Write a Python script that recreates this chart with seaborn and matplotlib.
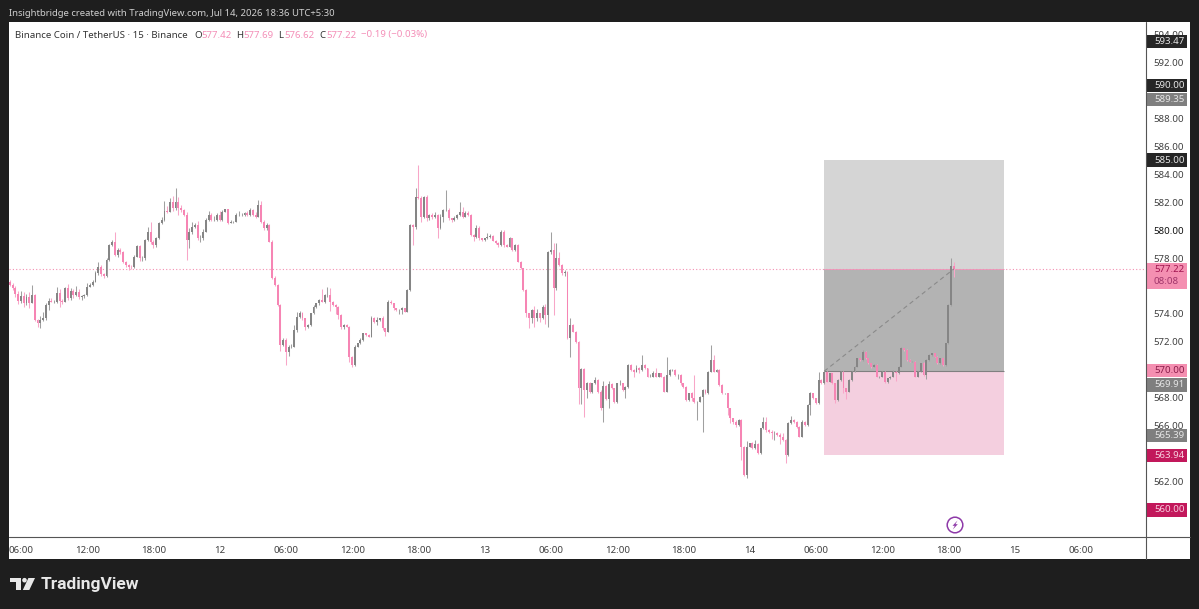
import matplotlib
matplotlib.use("Agg")
import matplotlib.pyplot as plt
from matplotlib.patches import Rectangle, Circle, Polygon
from matplotlib.transforms import blended_transform_factory
import numpy as np
import pandas as pd
import seaborn as sns

# 15-minute closes, oldest bar first
closes = [
    576.08, 575.84, 575.43, 574.96, 575.29, 574.77, 575.24, 574.81, 575.36, 573.58,
    573.34, 573.58, 573.69, 574.65, 574.96, 574.89, 574.89, 575.48, 574.96, 574.89,
    575.84, 575.12, 575.67, 575.36, 575.60, 575.24, 575.29, 575.36, 575.96, 576.08,
    576.31, 576.91, 577.34, 576.86, 576.72, 577.86, 578.93, 579.17, 578.22, 578.58,
    578.46, 577.74, 577.50, 577.39, 577.34, 578.10, 578.86, 577.98, 577.98, 579.29,
    579.89, 579.17, 578.93, 579.41, 580.48, 580.72, 581.39, 581.31, 582.03, 581.55,
    582.03, 581.55, 581.43, 581.08, 579.29, 579.89, 580.24, 580.36, 579.41, 579.41,
    579.89, 580.72, 581.08, 580.72, 580.72, 581.08, 580.72, 581.31, 581.48, 580.53,
    580.60, 580.60, 581.08, 581.08, 581.08, 581.19, 581.08, 581.43, 581.08, 580.96,
    581.79, 580.60, 580.12, 580.36, 579.17, 576.55, 576.08, 574.65, 571.79, 572.15,
    571.31, 571.67, 571.67, 572.86, 573.81, 574.04, 573.69, 573.09, 573.21, 574.04,
    574.52, 574.76, 575.00, 574.88, 575.35, 575.35, 574.88, 574.64, 574.52, 573.92,
    573.09, 573.21, 573.09, 570.95, 570.35, 571.66, 571.90, 572.14, 572.61, 572.50,
    572.38, 573.69, 573.45, 573.57, 573.69, 572.97, 572.73, 574.88, 574.76, 574.40,
    574.28, 574.28, 574.40, 574.16, 575.71, 580.35, 580.19, 582.38, 582.26, 580.95,
    582.38, 580.83, 581.07, 580.95, 581.07, 580.11, 580.95, 581.42, 581.42, 580.83,
    580.71, 580.83, 581.07, 581.31, 580.95, 581.19, 581.07, 579.64, 579.47, 580.11,
    579.40, 579.28, 579.40, 579.47, 579.57, 579.23, 579.04, 578.92, 579.88, 578.92,
    578.81, 579.40, 578.57, 578.92, 577.73, 577.26, 575.71, 574.04, 573.69, 574.28,
    573.69, 574.04, 573.69, 574.52, 573.92, 578.45, 578.57, 575.83, 577.97, 577.50,
    576.90, 577.02, 572.26, 573.21, 572.73, 572.02, 568.69, 570.07, 568.57, 569.04,
    568.45, 569.04, 569.28, 568.45, 567.26, 568.88, 567.92, 569.00, 568.69, 567.73,
    569.04, 569.04, 568.57, 568.81, 570.35, 570.00, 569.88, 570.11, 570.00, 570.35,
    570.11, 569.52, 569.52, 569.81, 569.52, 569.76, 569.52, 568.45, 569.64, 570.00,
    570.00, 569.64, 569.64, 569.04, 568.81, 567.85, 568.33, 567.97, 567.73, 567.73,
    568.09, 568.57, 568.33, 569.88, 570.71, 569.88, 570.00, 568.92, 568.33, 568.33,
    567.26, 566.54, 566.31, 566.07, 566.42, 564.52, 562.50, 564.52, 564.76, 564.40,
    564.71, 564.04, 565.83, 566.31, 565.71, 565.59, 565.47, 565.47, 565.35, 565.23,
    565.00, 563.92, 566.19, 566.43, 566.31, 565.95, 565.24, 566.31, 566.07, 567.50,
    568.33, 567.97, 567.62, 569.28, 569.05, 569.88, 569.17, 569.76, 569.05, 567.86,
    569.28, 569.88, 568.69, 568.45, 569.28, 569.88, 570.24, 570.83, 570.71, 571.31,
    570.83, 570.47, 570.24, 570.36, 569.52, 569.52, 569.88, 569.17, 569.40, 569.52,
    569.88, 569.76, 570.24, 571.55, 571.43, 570.71, 570.59, 570.59, 569.52, 569.88,
    570.47, 569.64, 570.71, 571.07, 571.19, 570.95, 570.47, 570.83, 570.36, 571.90,
    574.64, 577.42, 577.22,
]
first_open = 576.30

# Wick lengths above and below each candle body
upper_wicks = [
    0.10, 0.12, 0.15, 0.20, 0.35, 0.25, 0.20, 0.30, 0.72, 0.05,
    0.05, 0.30, 0.45, 0.10, 0.15, 0.20, 0.10, 0.45, 0.30, 0.10,
    0.12, 0.30, 0.20, 0.10, 0.40, 0.15, 0.10, 0.05, 0.25, 0.15,
    0.10, 0.15, 0.40, 0.15, 0.10, 0.15, 0.10, 0.15, 0.72, 0.10,
    0.10, 0.05, 0.05, 0.10, 0.10, 0.10, 0.10, 0.10, 0.15, 0.10,
    0.35, 0.70, 0.10, 0.10, 0.10, 0.20, 0.70, 0.35, 0.24, 0.40,
    0.95, 0.30, 0.25, 0.10, 0.20, 0.25, 0.30, 0.15, 0.25, 0.20,
    0.15, 0.15, 0.25, 0.15, 0.25, 0.15, 0.30, 0.15, 0.05, 0.05,
    0.10, 0.05, 0.15, 0.25, 0.10, 0.10, 0.20, 0.15, 0.05, 0.20,
    0.35, 0.30, 0.10, 0.15, 0.10, 0.10, 0.15, 0.05, 0.05, 0.15,
    0.10, 0.10, 0.20, 0.35, 0.30, 0.15, 0.10, 0.05, 0.10, 0.05,
    0.15, 0.05, 0.10, 0.80, 0.10, 0.55, 0.50, 0.05, 0.10, 0.05,
    0.10, 0.05, 0.10, 0.05, 0.05, 0.10, 0.05, 0.15, 0.05, 0.05,
    0.05, 0.20, 0.10, 0.25, 0.05, 0.15, 0.05, 0.10, 0.10, 0.05,
    0.05, 0.05, 0.10, 0.05, 0.05, 0.05, 0.10, 0.60, 2.26, 0.20,
    0.05, 0.10, 0.10, 0.15, 0.20, 0.05, 0.20, 0.10, 1.43, 0.15,
    0.05, 0.15, 0.10, 0.70, 0.35, 0.20, 0.20, 0.05, 0.05, 0.25,
    0.20, 0.05, 0.05, 0.30, 0.15, 0.05, 0.05, 0.10, 0.10, 0.10,
    0.05, 0.10, 0.05, 0.10, 0.05, 0.05, 0.05, 0.05, 0.05, 0.10,
    0.30, 0.35, 0.05, 0.15, 0.20, 0.05, 1.31, 0.50, 1.07, 0.48,
    0.10, 0.15, 0.05, 0.50, 0.05, 0.05, 0.05, 0.05, 0.10, 0.10,
    0.10, 0.05, 0.25, 0.05, 0.10, 0.30, 0.05, 0.20, 0.05, 0.05,
    0.05, 0.25, 0.05, 0.05, 0.10, 0.10, 0.05, 0.25, 0.10, 0.72,
    0.05, 0.05, 0.20, 0.10, 0.35, 0.05, 0.05, 0.05, 1.31, 0.05,
    0.10, 0.10, 0.05, 0.05, 0.05, 0.05, 0.05, 0.10, 1.70, 0.05,
    0.05, 0.05, 0.05, 0.05, 1.07, 0.36, 0.10, 0.05, 0.05, 0.05,
    0.05, 0.05, 0.05, 0.10, 0.10, 0.05, 0.05, 0.40, 0.05, 0.10,
    0.30, 0.05, 0.05, 0.35, 0.35, 0.10, 0.15, 0.20, 0.10, 0.15,
    0.30, 0.05, 0.10, 0.30, 0.10, 0.05, 0.05, 0.15, 0.05, 0.10,
    0.10, 0.05, 0.05, 0.60, 0.05, 0.05, 0.05, 0.05, 0.05, 0.05,
    0.05, 0.05, 0.05, 0.05, 0.05, 0.05, 0.05, 0.05, 0.05, 0.15,
    0.05, 0.05, 0.05, 0.05, 0.05, 0.05, 0.05, 0.05, 0.05, 0.05,
    0.10, 0.05, 0.05, 0.10, 0.05, 0.05, 0.05, 0.05, 0.05, 0.05,
    0.05, 0.10, 0.05, 0.10, 0.05, 0.05, 0.05, 0.05, 0.05, 0.05,
    0.05, 0.55, 0.27,
]
lower_wicks = [
    0.05, 0.10, 0.20, 0.25, 0.15, 0.30, 0.10, 0.35, 0.05, 0.05,
    0.25, 0.35, 0.10, 0.10, 0.35, 0.05, 0.10, 0.10, 0.45, 0.20,
    0.05, 0.15, 0.10, 0.25, 0.10, 0.15, 0.25, 0.15, 0.05, 0.05,
    0.10, 0.05, 0.10, 0.15, 0.15, 0.10, 0.05, 0.10, 0.10, 0.15,
    0.15, 0.10, 0.15, 0.25, 0.15, 0.05, 0.05, 0.20, 0.20, 0.15,
    0.05, 0.15, 0.25, 0.15, 0.05, 0.05, 0.05, 0.10, 0.05, 0.20,
    0.15, 0.50, 0.15, 0.05, 1.43, 0.60, 0.15, 0.10, 0.15, 0.30,
    0.15, 0.05, 0.10, 0.10, 0.05, 0.10, 0.05, 0.05, 0.05, 0.10,
    0.05, 0.10, 0.05, 0.10, 0.05, 0.05, 0.10, 0.05, 0.05, 0.10,
    0.05, 0.10, 0.15, 0.15, 0.05, 0.05, 0.05, 0.05, 0.40, 0.05,
    0.95, 0.30, 0.10, 0.05, 0.15, 0.10, 0.10, 0.20, 0.10, 0.05,
    0.05, 0.10, 0.10, 0.05, 0.10, 0.15, 0.70, 0.05, 0.55, 0.30,
    0.15, 0.15, 0.05, 0.35, 0.15, 0.10, 0.05, 0.05, 0.05, 0.10,
    0.05, 0.05, 0.10, 0.25, 0.05, 0.10, 0.30, 0.05, 0.05, 0.15,
    0.10, 0.25, 0.30, 0.05, 0.05, 0.05, 1.25, 0.15, 0.05, 0.35,
    0.10, 0.20, 0.10, 0.15, 0.10, 0.70, 0.05, 0.35, 0.05, 0.15,
    0.15, 0.10, 0.05, 0.05, 0.10, 0.05, 0.05, 0.05, 0.25, 0.05,
    0.10, 0.05, 0.05, 0.05, 0.05, 0.05, 0.05, 0.10, 0.05, 0.10,
    0.05, 0.05, 0.05, 0.05, 0.05, 0.05, 0.05, 0.25, 0.70, 0.30,
    0.65, 0.20, 0.25, 0.05, 0.60, 0.83, 0.15, 1.91, 0.10, 0.05,
    0.10, 0.15, 0.05, 1.31, 0.05, 0.10, 1.09, 1.09, 1.91, 0.60,
    0.10, 0.10, 0.05, 0.10, 0.10, 0.95, 0.05, 0.66, 0.05, 0.10,
    0.10, 0.10, 0.05, 0.60, 0.10, 0.05, 0.35, 0.05, 0.25, 0.05,
    0.05, 0.05, 0.05, 0.05, 0.05, 0.05, 0.05, 0.05, 0.05, 0.05,
    0.05, 0.05, 0.25, 0.10, 0.10, 0.10, 0.05, 0.20, 0.10, 1.30,
    0.05, 2.50, 0.05, 0.05, 0.05, 0.05, 0.05, 0.05, 0.05, 0.05,
    0.50, 0.35, 0.15, 0.15, 0.05, 0.95, 0.10, 0.20, 0.05, 0.05,
    0.05, 0.05, 0.05, 0.05, 0.15, 0.10, 0.40, 0.45, 0.10, 0.50,
    0.10, 0.60, 0.05, 0.05, 0.10, 0.10, 0.05, 0.05, 0.05, 0.05,
    0.70, 0.05, 0.05, 0.05, 0.05, 0.05, 0.05, 0.05, 0.05, 0.25,
    0.05, 0.05, 0.30, 0.50, 0.05, 0.05, 0.05, 0.05, 0.05, 0.05,
    0.05, 0.05, 0.10, 0.05, 0.05, 0.10, 0.05, 0.10, 0.10, 0.05,
    0.05, 0.55, 0.05, 0.05, 0.05, 0.10, 0.05, 0.05, 0.05, 0.05,
    0.05, 0.05, 0.30, 0.05, 0.05, 0.05, 0.05, 0.05, 0.05, 0.05,
    0.05, 0.05, 0.60,
]

# Time axis: bar index of each label
time_tick_bars = [4, 28, 52, 76, 100, 124, 148, 172, 196, 220, 244, 268, 292, 316, 340, 364, 388]
time_tick_labels = ["06:00", "12:00", "18:00", "12", "06:00", "12:00", "18:00", "13",
                    "06:00", "12:00", "18:00", "14", "06:00", "12:00", "18:00", "15", "06:00"]
# 570 and 590 are carried by their tags on the scale
price_ticks = [562, 564, 566, 568, 572, 574, 576, 578, 580, 582, 584, 586, 588, 592, 594]

# Long-position tool levels
position_start, position_end = 295, 360.2
target_price, last_price, entry_price, stop_price = 585.00, 577.22, 569.91, 563.94
last_bar = 342

# Price tags on the scale: text, vertical anchor, fill, text colour
tag_labels = ["593.47", "590.00", "589.35", "585.00", "570.00", "569.91", "565.39", "563.94", "560.00"]
tag_anchors = [593.47, 590.30, 589.35, 585.00, 569.95, 568.93, 565.30, 563.88, 560.00]
tag_fills = ["#262626", "#262626", "#7f7f7f", "#262626", "#f48fb1", "#7f7f7f", "#7f7f7f", "#c2185b", "#c2185b"]
tag_inks = ["#e6e6e6", "#e6e6e6", "#e6e6e6", "#e6e6e6", "#8a1c4a", "#e6e6e6", "#e6e6e6", "#f8cfe0", "#f8cfe0"]

sns.set_theme(style="white")
plt.rcParams["font.family"] = ["Noto Sans", "DejaVu Sans"]

DARK = "#1e1e1e"
UP = "#858585"
DOWN = "#f685b4"
UP_WICK = "#a0a0a0"
DOWN_WICK = "#f8a6c8"
INK = "#3f3f3f"
AXIS = "#555555"
FS = 6.95

opens = [first_open] + closes[:-1]
candles = pd.DataFrame({"bar": np.arange(len(closes)), "open": opens, "close": closes,
                        "upper": upper_wicks, "lower": lower_wicks})
candles["top"] = candles[["open", "close"]].max(axis=1)
candles["bottom"] = candles[["open", "close"]].min(axis=1)
candles["high"] = candles["top"] + candles["upper"]
candles["low"] = candles["bottom"] - candles["lower"]
rising = candles["close"] >= candles["open"]
candles["colour"] = np.where(rising, UP, DOWN)
candles["wick"] = np.where(rising, UP_WICK, DOWN_WICK)

W, H = 1199, 609
fig = plt.figure(figsize=(W / 100, H / 100), dpi=100, facecolor=DARK)

# Page-level layer in pixel coordinates for panels and furniture
back = fig.add_axes([0, 0, 1, 1], zorder=0)
back.set_xlim(0, W)
back.set_ylim(H, 0)
back.axis("off")
back.add_patch(Rectangle((9, 22), 1181, 537, facecolor="white", edgecolor="none"))

# Price pane
left, right, top, bottom = 9, 1146, 22, 536
ax = fig.add_axes([left / W, 1 - bottom / H, (right - left) / W, (bottom - top) / H], zorder=1)
ax.patch.set_alpha(0)
ax.set_xlim(-0.33, 411.6)
ax.set_ylim(558.14, 594.86)

ax.add_patch(Rectangle((position_start, last_price), position_end - position_start, target_price - last_price,
                       facecolor="#d5d5d5", edgecolor="none", zorder=1))
ax.add_patch(Rectangle((position_start, entry_price), position_end - position_start, last_price - entry_price,
                       facecolor="#b3b3b3", edgecolor="none", zorder=1))
ax.add_patch(Rectangle((position_start, stop_price), position_end - position_start, entry_price - stop_price,
                       facecolor="#f4cfdf", edgecolor="none", zorder=1))
ax.hlines(entry_price, position_start, position_end, color="#808080", lw=0.8, zorder=2)
ax.hlines(last_price, position_start, position_end, color="#e8a0bf", lw=0.7, zorder=2)
ax.axhline(last_price, color="#f48fb1", lw=0.8, ls=(0, (1, 2)), zorder=2)

ax.vlines(candles["bar"], candles["low"], candles["high"], colors=candles["wick"], lw=0.75, zorder=3)
ax.bar(candles["bar"], candles["top"] - candles["bottom"], bottom=candles["bottom"], width=0.7,
       color=candles["colour"], linewidth=0, zorder=4)

# Dashed stroke from the entry to the latest close
path = pd.DataFrame({"bar": [position_start, last_bar], "price": [entry_price, last_price]})
sns.lineplot(data=path, x="bar", y="price", ax=ax, color="#8a8a8a", lw=0.8, linestyle=(0, (4, 3)),
             zorder=5, legend=False)

ax.set_xlabel("")
ax.set_ylabel("")
ax.set_xticks(time_tick_bars, time_tick_labels)
ax.set_yticks(price_ticks, [f"{p:.2f}" for p in price_ticks])
ax.yaxis.tick_right()
ax.tick_params(axis="x", length=0, pad=7, labelsize=FS, labelcolor=INK)
ax.tick_params(axis="y", length=0, pad=5.6, labelsize=FS, labelcolor=INK)
for label in ax.get_xticklabels():
    if label.get_text() == "13":
        label.set_fontweight("bold")
for label in ax.get_yticklabels():
    if label.get_text() == "580.00":
        label.set_fontweight("bold")
        label.set_color("#111111")
for side in ("top", "left", "right", "bottom"):
    ax.spines[side].set_visible(False)

# Top layer: pane borders, scale tags, headings and logo
front = fig.add_axes([0, 0, 1, 1], zorder=2)
front.set_xlim(0, W)
front.set_ylim(H, 0)
front.axis("off")
front.plot([1146, 1146], [22, 559], color=AXIS, lw=0.8)
front.plot([9, 1190], [536.5, 536.5], color=AXIS, lw=0.8)

price_to_page = blended_transform_factory(front.transData, ax.transData)
half = 0.47
for text, anchor, fill, ink in zip(tag_labels, tag_anchors, tag_fills, tag_inks):
    front.add_patch(Rectangle((1147, anchor - half), 40, 2 * half, facecolor=fill, edgecolor="none",
                              transform=price_to_page))
    front.text(1154, anchor, text, transform=price_to_page, fontsize=FS, color=ink, va="center", ha="left")

front.add_patch(Rectangle((1147, 262.5), 40, 26, facecolor="#f48fb1", edgecolor="none"))
front.text(1154, 269.8, "577.22", fontsize=FS, color="#a0144f", fontweight="bold", va="center", ha="left")
front.text(1154, 282, "08:08", fontsize=FS, color="#a0346a", va="center", ha="left")

front.text(9, 13, "Insightbridge created with TradingView.com, Jul 14, 2026 18:36 UTC+5:30",
           fontsize=6.85, color="#d0d0d0", va="center", ha="left")

front.text(15, 35, "Binance Coin / TetherUS · 15 · Binance", fontsize=FS, color="#333333", va="center", ha="left")
PINK = "#f48fb8"
for x, letter, value_x, value in [(194, "O", 201, "577.42"), (236, "H", 243, "577.69"),
                                  (278, "L", 284, "576.62"), (319, "C", 326, "577.22")]:
    front.text(x, 35, letter, fontsize=FS, color="#333333", va="center", ha="left")
    front.text(value_x, 35, value, fontsize=FS, color=PINK, va="center", ha="left")
front.text(361, 35, "−0.19 (−0.03%)", fontsize=FS, color=PINK, va="center", ha="left")

# Alert marker near the last bar
front.add_patch(Circle((955, 525), 7.8, facecolor="white", edgecolor="#8e3aa8", lw=1.1))
front.add_patch(Polygon([(957.5, 520.5), (952.5, 525.8), (954.8, 525.8), (952.8, 529.5), (957.8, 524.2), (955.4, 524.2)],
                        closed=True, facecolor="#8e3aa8", edgecolor="none"))

# TradingView mark and wordmark
logo = "#e8e8e8"
front.add_patch(Polygon([(10, 578), (21, 578), (21, 590), (15.5, 590), (15.5, 582), (10, 582)],
                        closed=True, facecolor=logo, edgecolor="none"))
front.add_patch(Circle((24.5, 580.2), 2.3, facecolor=logo, edgecolor="none"))
front.add_patch(Polygon([(28.4, 578), (35, 578), (29.3, 590), (22.8, 590)],
                        closed=True, facecolor=logo, edgecolor="none"))
front.text(41, 584, "TradingView", fontsize=12.5, color=logo, family="Roboto", fontweight="bold",
           va="center", ha="left")

fig.savefig("out.png", dpi=100, facecolor=DARK)
